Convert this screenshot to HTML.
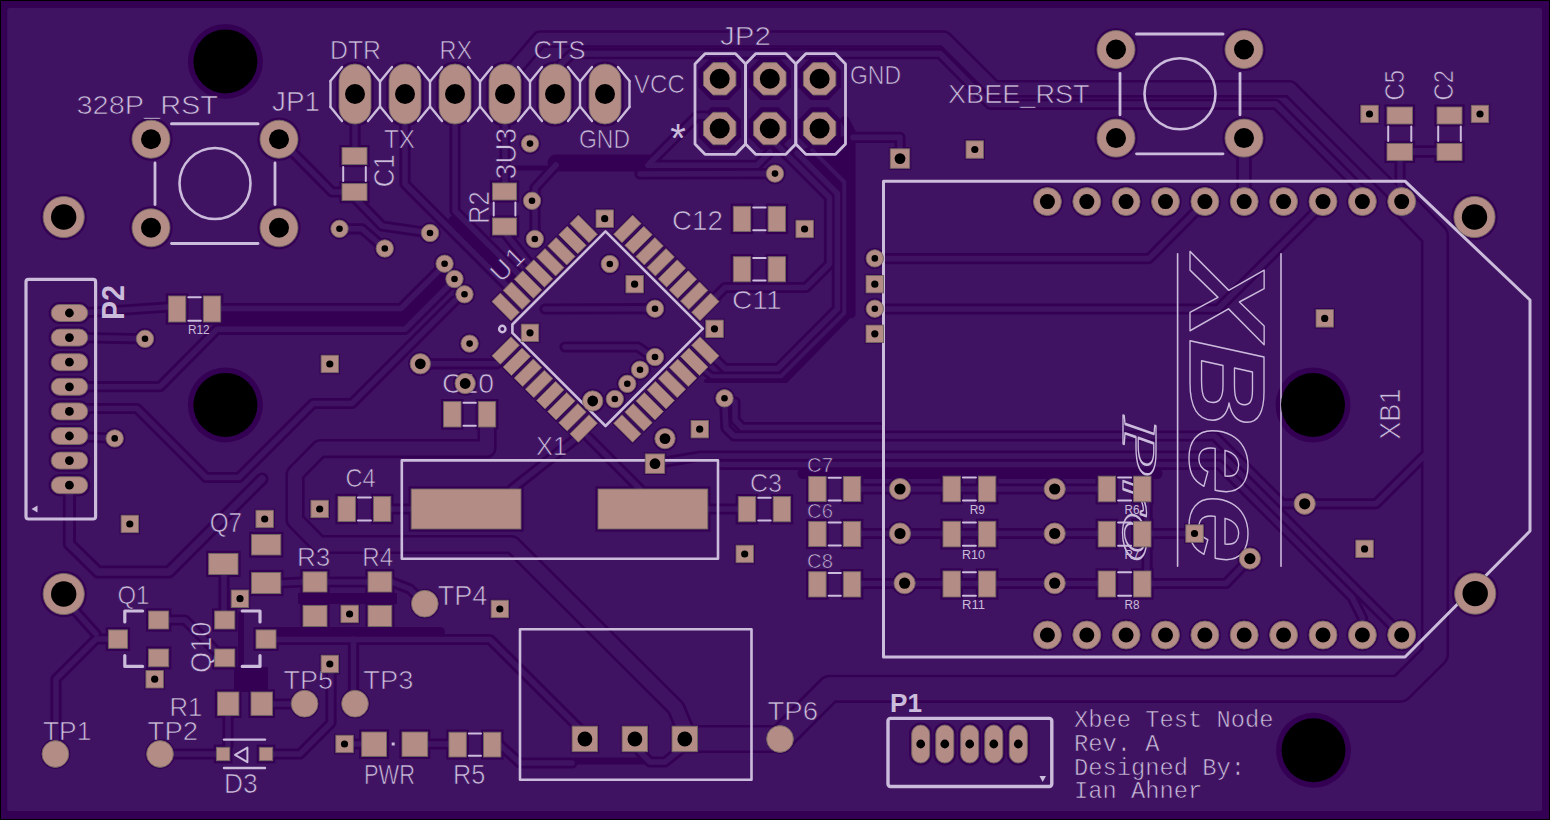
<!DOCTYPE html>
<html lang="en"><head><meta charset="utf-8"><title>Xbee Test Node - board render</title>
<style>html,body{margin:0;padding:0;background:#000;overflow:hidden}svg{display:block}</style></head><body>
<svg width="1550" height="820" viewBox="0 0 1550 820">
<rect width="1550" height="820" fill="#000"/>
<rect x="1" y="1" width="1548" height="818" fill="#340054"/>
<rect x="7.2" y="8" width="1534.8" height="803" rx="2.5" fill="#401262"/>
<g fill="none" stroke="#340054" stroke-linejoin="round" stroke-linecap="round">
<circle cx="225.4" cy="61.4" r="37.5" stroke="none" fill="#340054"/>
<circle cx="225.4" cy="404.9" r="37.5" stroke="none" fill="#340054"/>
<circle cx="1313" cy="405" r="37.5" stroke="none" fill="#340054"/>
<circle cx="1313.5" cy="750.3" r="37.5" stroke="none" fill="#340054"/>
<circle cx="63.7" cy="217" r="23.2" stroke="none" fill="#340054"/>
<circle cx="1474.5" cy="217" r="23.2" stroke="none" fill="#340054"/>
<circle cx="63.7" cy="594" r="23.2" stroke="none" fill="#340054"/>
<circle cx="1475.2" cy="593.6" r="23.2" stroke="none" fill="#340054"/>
<circle cx="151" cy="139.2" r="21.6" stroke="none" fill="#340054"/>
<circle cx="151" cy="227.8" r="21.6" stroke="none" fill="#340054"/>
<circle cx="279" cy="139.2" r="21.6" stroke="none" fill="#340054"/>
<circle cx="279" cy="227.8" r="21.6" stroke="none" fill="#340054"/>
<circle cx="1116" cy="49.5" r="21.6" stroke="none" fill="#340054"/>
<circle cx="1116" cy="138.1" r="21.6" stroke="none" fill="#340054"/>
<circle cx="1244" cy="49.5" r="21.6" stroke="none" fill="#340054"/>
<circle cx="1244" cy="138.1" r="21.6" stroke="none" fill="#340054"/>
<rect x="336.4" y="61.4" width="37.2" height="65.2" rx="18.6" stroke="none" fill="#340054"/>
<rect x="386.4" y="61.4" width="37.2" height="65.2" rx="18.6" stroke="none" fill="#340054"/>
<rect x="436.4" y="61.4" width="37.2" height="65.2" rx="18.6" stroke="none" fill="#340054"/>
<rect x="486.4" y="61.4" width="37.2" height="65.2" rx="18.6" stroke="none" fill="#340054"/>
<rect x="536.4" y="61.4" width="37.2" height="65.2" rx="18.6" stroke="none" fill="#340054"/>
<rect x="586.4" y="61.4" width="37.2" height="65.2" rx="18.6" stroke="none" fill="#340054"/>
<polygon points="710.9,57.6 728.5,57.6 740.9,70 740.9,87.6 728.5,100 710.9,100 698.5,87.6 698.5,70" stroke="none" fill="#340054"/>
<polygon points="710.9,107.3 728.5,107.3 740.9,119.7 740.9,137.3 728.5,149.7 710.9,149.7 698.5,137.3 698.5,119.7" stroke="none" fill="#340054"/>
<polygon points="761,57.6 778.6,57.6 791,70 791,87.6 778.6,100 761,100 748.6,87.6 748.6,70" stroke="none" fill="#340054"/>
<polygon points="761,107.3 778.6,107.3 791,119.7 791,137.3 778.6,149.7 761,149.7 748.6,137.3 748.6,119.7" stroke="none" fill="#340054"/>
<polygon points="810.8,57.6 828.4,57.6 840.8,70 840.8,87.6 828.4,100 810.8,100 798.4,87.6 798.4,70" stroke="none" fill="#340054"/>
<polygon points="810.8,107.3 828.4,107.3 840.8,119.7 840.8,137.3 828.4,149.7 810.8,149.7 798.4,137.3 798.4,119.7" stroke="none" fill="#340054"/>
<rect x="339.4" y="145" width="30.2" height="22.2" stroke="none" fill="#340054"/>
<rect x="339.4" y="181" width="30.2" height="22.2" stroke="none" fill="#340054"/>
<rect x="489.9" y="180.4" width="29.3" height="22.2" stroke="none" fill="#340054"/>
<rect x="489.9" y="215.4" width="29.3" height="22.2" stroke="none" fill="#340054"/>
<rect x="1384.4" y="104.4" width="30.7" height="22.2" stroke="none" fill="#340054"/>
<rect x="1384.4" y="140.8" width="30.7" height="22.2" stroke="none" fill="#340054"/>
<rect x="1434.4" y="104.4" width="30.2" height="22.2" stroke="none" fill="#340054"/>
<rect x="1434.4" y="140.8" width="30.2" height="22.2" stroke="none" fill="#340054"/>
<rect x="730.7" y="203.7" width="22.6" height="30.4" stroke="none" fill="#340054"/>
<rect x="765.5" y="203.7" width="22.6" height="30.4" stroke="none" fill="#340054"/>
<rect x="730.7" y="254.1" width="22.6" height="30.3" stroke="none" fill="#340054"/>
<rect x="765.5" y="254.1" width="22.6" height="30.3" stroke="none" fill="#340054"/>
<rect x="165.8" y="293.4" width="22.6" height="31.2" stroke="none" fill="#340054"/>
<rect x="200.7" y="293.4" width="22.6" height="31.2" stroke="none" fill="#340054"/>
<rect x="441" y="399" width="22.6" height="30.6" stroke="none" fill="#340054"/>
<rect x="475.7" y="399" width="22.6" height="30.6" stroke="none" fill="#340054"/>
<rect x="335.4" y="493.8" width="22.6" height="30.4" stroke="none" fill="#340054"/>
<rect x="370.8" y="493.8" width="22.6" height="30.4" stroke="none" fill="#340054"/>
<rect x="735.7" y="494" width="22.6" height="30.4" stroke="none" fill="#340054"/>
<rect x="770.6" y="494" width="22.6" height="30.4" stroke="none" fill="#340054"/>
<rect x="806.1" y="473.9" width="22.6" height="30.3" stroke="none" fill="#340054"/>
<rect x="840.7" y="473.9" width="22.6" height="30.3" stroke="none" fill="#340054"/>
<rect x="806.1" y="518.8" width="22.6" height="30.4" stroke="none" fill="#340054"/>
<rect x="840.7" y="518.8" width="22.6" height="30.4" stroke="none" fill="#340054"/>
<rect x="806.1" y="569.1" width="22.6" height="30.5" stroke="none" fill="#340054"/>
<rect x="840.7" y="569.1" width="22.6" height="30.5" stroke="none" fill="#340054"/>
<rect x="446.3" y="729.6" width="22.6" height="30" stroke="none" fill="#340054"/>
<rect x="480.9" y="729.6" width="22.6" height="30" stroke="none" fill="#340054"/>
<rect x="940.4" y="473.6" width="22.6" height="30.8" stroke="none" fill="#340054"/>
<rect x="975.8" y="473.6" width="22.6" height="30.8" stroke="none" fill="#340054"/>
<rect x="1095.6" y="473.6" width="22.6" height="30.8" stroke="none" fill="#340054"/>
<rect x="1131" y="473.6" width="22.6" height="30.8" stroke="none" fill="#340054"/>
<rect x="940.4" y="518.7" width="22.6" height="30.8" stroke="none" fill="#340054"/>
<rect x="975.8" y="518.7" width="22.6" height="30.8" stroke="none" fill="#340054"/>
<rect x="1095.6" y="518.7" width="22.6" height="30.8" stroke="none" fill="#340054"/>
<rect x="1131" y="518.7" width="22.6" height="30.8" stroke="none" fill="#340054"/>
<rect x="940.4" y="568.4" width="22.6" height="31.2" stroke="none" fill="#340054"/>
<rect x="975.8" y="568.4" width="22.6" height="31.2" stroke="none" fill="#340054"/>
<rect x="1095.6" y="568.4" width="22.6" height="31.2" stroke="none" fill="#340054"/>
<rect x="1131" y="568.4" width="22.6" height="31.2" stroke="none" fill="#340054"/>
<rect x="48.6" y="301.9" width="41.7" height="22.2" rx="11.1" stroke="none" fill="#340054"/>
<rect x="48.6" y="326.5" width="41.7" height="22.2" rx="11.1" stroke="none" fill="#340054"/>
<rect x="48.6" y="351.1" width="41.7" height="22.2" rx="11.1" stroke="none" fill="#340054"/>
<rect x="48.6" y="375.7" width="41.7" height="22.2" rx="11.1" stroke="none" fill="#340054"/>
<rect x="48.6" y="400.3" width="41.7" height="22.2" rx="11.1" stroke="none" fill="#340054"/>
<rect x="48.6" y="424.9" width="41.7" height="22.2" rx="11.1" stroke="none" fill="#340054"/>
<rect x="48.6" y="449.5" width="41.7" height="22.2" rx="11.1" stroke="none" fill="#340054"/>
<rect x="48.6" y="474.1" width="41.7" height="22.2" rx="11.1" stroke="none" fill="#340054"/>
<rect x="909.1" y="722.4" width="23.2" height="43.2" rx="11.6" stroke="none" fill="#340054"/>
<rect x="933.2" y="722.4" width="23.2" height="43.2" rx="11.6" stroke="none" fill="#340054"/>
<rect x="958.1" y="722.4" width="23.2" height="43.2" rx="11.6" stroke="none" fill="#340054"/>
<rect x="982.2" y="722.4" width="23.2" height="43.2" rx="11.6" stroke="none" fill="#340054"/>
<rect x="1006.7" y="722.4" width="23.2" height="43.2" rx="11.6" stroke="none" fill="#340054"/>
<polygon points="578.4,213.1 599.4,234.2 589,244.7 567.9,223.6" stroke="none" fill="#340054"/>
<polygon points="700,334.8 721.1,355.8 710.6,366.3 689.5,345.2" stroke="none" fill="#340054"/>
<polygon points="632.6,213.1 643.1,223.6 622,244.7 611.6,234.2" stroke="none" fill="#340054"/>
<polygon points="511,334.8 521.5,345.2 500.4,366.3 489.9,355.8" stroke="none" fill="#340054"/>
<polygon points="567.2,224.3 588.3,245.3 577.8,255.8 556.8,234.7" stroke="none" fill="#340054"/>
<polygon points="688.9,345.9 709.9,367 699.5,377.4 678.4,356.4" stroke="none" fill="#340054"/>
<polygon points="643.8,224.3 654.2,234.7 633.2,255.8 622.7,245.3" stroke="none" fill="#340054"/>
<polygon points="522.1,345.9 532.6,356.4 511.5,377.4 501.1,367" stroke="none" fill="#340054"/>
<polygon points="556.1,235.4 577.2,256.5 566.7,267 545.6,245.9" stroke="none" fill="#340054"/>
<polygon points="677.7,357 698.8,378.1 688.3,388.6 667.2,367.5" stroke="none" fill="#340054"/>
<polygon points="654.9,235.4 665.4,245.9 644.3,267 633.8,256.5" stroke="none" fill="#340054"/>
<polygon points="533.3,357 543.8,367.5 522.7,388.6 512.2,378.1" stroke="none" fill="#340054"/>
<polygon points="545,246.6 566,267.6 555.6,278.1 534.5,257" stroke="none" fill="#340054"/>
<polygon points="666.6,368.2 687.6,389.2 677.2,399.7 656.1,378.6" stroke="none" fill="#340054"/>
<polygon points="666,246.6 676.5,257 655.4,278.1 645,267.6" stroke="none" fill="#340054"/>
<polygon points="544.4,368.2 554.9,378.6 533.8,399.7 523.4,389.2" stroke="none" fill="#340054"/>
<polygon points="533.8,257.7 554.9,278.8 544.4,289.2 523.4,268.2" stroke="none" fill="#340054"/>
<polygon points="655.4,379.3 676.5,400.4 666,410.8 645,389.8" stroke="none" fill="#340054"/>
<polygon points="677.2,257.7 687.6,268.2 666.6,289.2 656.1,278.8" stroke="none" fill="#340054"/>
<polygon points="555.6,379.3 566,389.8 545,410.8 534.5,400.4" stroke="none" fill="#340054"/>
<polygon points="522.7,268.8 543.8,289.9 533.3,300.4 512.2,279.3" stroke="none" fill="#340054"/>
<polygon points="644.3,390.4 665.4,411.5 654.9,422 633.8,400.9" stroke="none" fill="#340054"/>
<polygon points="688.3,268.8 698.8,279.3 677.7,300.4 667.2,289.9" stroke="none" fill="#340054"/>
<polygon points="566.7,390.4 577.2,400.9 556.1,422 545.6,411.5" stroke="none" fill="#340054"/>
<polygon points="511.5,280 532.6,301 522.1,311.5 501.1,290.4" stroke="none" fill="#340054"/>
<polygon points="633.2,401.6 654.2,422.7 643.8,433.1 622.7,412.1" stroke="none" fill="#340054"/>
<polygon points="699.5,280 709.9,290.4 688.9,311.5 678.4,301" stroke="none" fill="#340054"/>
<polygon points="577.8,401.6 588.3,412.1 567.2,433.1 556.8,422.7" stroke="none" fill="#340054"/>
<polygon points="500.4,291.1 521.5,312.2 511,322.6 489.9,301.6" stroke="none" fill="#340054"/>
<polygon points="622,412.7 643.1,433.8 632.6,444.3 611.6,423.2" stroke="none" fill="#340054"/>
<polygon points="710.6,291.1 721.1,301.6 700,322.6 689.5,312.2" stroke="none" fill="#340054"/>
<polygon points="589,412.7 599.4,423.2 578.4,444.3 567.9,433.8" stroke="none" fill="#340054"/>
<rect x="408.6" y="486.4" width="115" height="45.2" stroke="none" fill="#340054"/>
<rect x="595.4" y="486.4" width="115" height="45.2" stroke="none" fill="#340054"/>
<rect x="570.6" y="724.8" width="28.5" height="28.5" stroke="none" fill="#340054"/>
<rect x="620.6" y="724.8" width="28.5" height="28.5" stroke="none" fill="#340054"/>
<rect x="670.5" y="724.8" width="28.5" height="28.5" stroke="none" fill="#340054"/>
<circle cx="424.8" cy="603.7" r="14.9" stroke="none" fill="#340054"/>
<circle cx="304.6" cy="703.7" r="14.9" stroke="none" fill="#340054"/>
<circle cx="355" cy="703.7" r="14.9" stroke="none" fill="#340054"/>
<circle cx="55.4" cy="754" r="14.9" stroke="none" fill="#340054"/>
<circle cx="160" cy="754" r="14.9" stroke="none" fill="#340054"/>
<circle cx="780" cy="739" r="14.9" stroke="none" fill="#340054"/>
<rect x="105.8" y="627.3" width="24.3" height="23.6" stroke="none" fill="#340054"/>
<rect x="146" y="608.4" width="25.3" height="23.2" stroke="none" fill="#340054"/>
<rect x="146" y="646.4" width="25.3" height="23" stroke="none" fill="#340054"/>
<rect x="212.1" y="608.4" width="25.3" height="23.2" stroke="none" fill="#340054"/>
<rect x="212.1" y="646.4" width="25.3" height="23" stroke="none" fill="#340054"/>
<rect x="253.4" y="627.3" width="25.2" height="23.6" stroke="none" fill="#340054"/>
<rect x="206.1" y="550.8" width="34.5" height="26.3" stroke="none" fill="#340054"/>
<rect x="249" y="531.8" width="34.4" height="25.8" stroke="none" fill="#340054"/>
<rect x="249" y="569.9" width="34.4" height="26.3" stroke="none" fill="#340054"/>
<rect x="300.4" y="569.2" width="29.2" height="25.4" stroke="none" fill="#340054"/>
<rect x="300.4" y="602.8" width="29.2" height="26.3" stroke="none" fill="#340054"/>
<rect x="365.4" y="569.2" width="29" height="25.4" stroke="none" fill="#340054"/>
<rect x="365.4" y="602.8" width="29" height="26.3" stroke="none" fill="#340054"/>
<rect x="214.8" y="689.4" width="26.7" height="28.6" stroke="none" fill="#340054"/>
<rect x="248.4" y="689.4" width="26.6" height="28.6" stroke="none" fill="#340054"/>
<rect x="213.8" y="744.7" width="18.6" height="18.6" stroke="none" fill="#340054"/>
<rect x="256.7" y="744.7" width="18.6" height="18.6" stroke="none" fill="#340054"/>
<rect x="359.1" y="729.4" width="30" height="29.6" stroke="none" fill="#340054"/>
<rect x="399.4" y="729.4" width="30.9" height="29.6" stroke="none" fill="#340054"/>
<circle cx="1047.4" cy="201.6" r="16" stroke="none" fill="#340054"/>
<circle cx="1047.4" cy="635" r="16" stroke="none" fill="#340054"/>
<circle cx="1086.8" cy="201.6" r="16" stroke="none" fill="#340054"/>
<circle cx="1086.8" cy="635" r="16" stroke="none" fill="#340054"/>
<circle cx="1126.1" cy="201.6" r="16" stroke="none" fill="#340054"/>
<circle cx="1126.1" cy="635" r="16" stroke="none" fill="#340054"/>
<circle cx="1165.5" cy="201.6" r="16" stroke="none" fill="#340054"/>
<circle cx="1165.5" cy="635" r="16" stroke="none" fill="#340054"/>
<circle cx="1204.9" cy="201.6" r="16" stroke="none" fill="#340054"/>
<circle cx="1204.9" cy="635" r="16" stroke="none" fill="#340054"/>
<circle cx="1244.2" cy="201.6" r="16" stroke="none" fill="#340054"/>
<circle cx="1244.2" cy="635" r="16" stroke="none" fill="#340054"/>
<circle cx="1283.6" cy="201.6" r="16" stroke="none" fill="#340054"/>
<circle cx="1283.6" cy="635" r="16" stroke="none" fill="#340054"/>
<circle cx="1323" cy="201.6" r="16" stroke="none" fill="#340054"/>
<circle cx="1323" cy="635" r="16" stroke="none" fill="#340054"/>
<circle cx="1362.4" cy="201.6" r="16" stroke="none" fill="#340054"/>
<circle cx="1362.4" cy="635" r="16" stroke="none" fill="#340054"/>
<circle cx="1401.7" cy="201.6" r="16" stroke="none" fill="#340054"/>
<circle cx="1401.7" cy="635" r="16" stroke="none" fill="#340054"/>
<circle cx="339.5" cy="228.8" r="10.7" stroke="none" fill="#340054"/>
<circle cx="384.8" cy="248.5" r="10.7" stroke="none" fill="#340054"/>
<circle cx="430" cy="233" r="10.7" stroke="none" fill="#340054"/>
<circle cx="444.6" cy="263.7" r="10.7" stroke="none" fill="#340054"/>
<circle cx="454.5" cy="279" r="10.7" stroke="none" fill="#340054"/>
<circle cx="464.5" cy="294.3" r="10.7" stroke="none" fill="#340054"/>
<circle cx="530" cy="143.6" r="10.7" stroke="none" fill="#340054"/>
<circle cx="532" cy="200.8" r="10.7" stroke="none" fill="#340054"/>
<circle cx="534.8" cy="239" r="10.7" stroke="none" fill="#340054"/>
<circle cx="469.6" cy="343.6" r="10.7" stroke="none" fill="#340054"/>
<circle cx="609.8" cy="264" r="10.7" stroke="none" fill="#340054"/>
<circle cx="655" cy="308.7" r="10.7" stroke="none" fill="#340054"/>
<circle cx="655" cy="357" r="10.7" stroke="none" fill="#340054"/>
<circle cx="640" cy="369.7" r="10.7" stroke="none" fill="#340054"/>
<circle cx="627.3" cy="383.8" r="10.7" stroke="none" fill="#340054"/>
<circle cx="614.8" cy="399" r="10.7" stroke="none" fill="#340054"/>
<circle cx="724.5" cy="398.3" r="10.7" stroke="none" fill="#340054"/>
<circle cx="775" cy="173.6" r="10.7" stroke="none" fill="#340054"/>
<circle cx="874.8" cy="258.4" r="10.7" stroke="none" fill="#340054"/>
<circle cx="874.8" cy="308.7" r="10.7" stroke="none" fill="#340054"/>
<circle cx="145" cy="338.8" r="10.7" stroke="none" fill="#340054"/>
<circle cx="114.7" cy="438.4" r="10.7" stroke="none" fill="#340054"/>
<circle cx="420.3" cy="363.8" r="12.2" stroke="none" fill="#340054"/>
<circle cx="465.2" cy="383.5" r="12.2" stroke="none" fill="#340054"/>
<circle cx="592.7" cy="401" r="12.2" stroke="none" fill="#340054"/>
<circle cx="665" cy="438.6" r="12.2" stroke="none" fill="#340054"/>
<circle cx="900" cy="489" r="12.6" stroke="none" fill="#340054"/>
<circle cx="900" cy="533.5" r="12.6" stroke="none" fill="#340054"/>
<circle cx="904.6" cy="583.2" r="12.6" stroke="none" fill="#340054"/>
<circle cx="1054.7" cy="489" r="12.6" stroke="none" fill="#340054"/>
<circle cx="1054.7" cy="533.5" r="12.6" stroke="none" fill="#340054"/>
<circle cx="1054.7" cy="583.2" r="12.6" stroke="none" fill="#340054"/>
<circle cx="1304.7" cy="503.8" r="12.6" stroke="none" fill="#340054"/>
<circle cx="1249.9" cy="558.6" r="12.6" stroke="none" fill="#340054"/>
<rect x="964.5" y="139.2" width="20.5" height="20.5" stroke="none" fill="#340054"/>
<rect x="594.5" y="208.4" width="20.5" height="20.5" stroke="none" fill="#340054"/>
<rect x="794.4" y="218.8" width="20.5" height="20.5" stroke="none" fill="#340054"/>
<rect x="624.4" y="273.9" width="20.5" height="20.5" stroke="none" fill="#340054"/>
<rect x="519.8" y="322.6" width="20.5" height="20.5" stroke="none" fill="#340054"/>
<rect x="704.2" y="318.6" width="20.5" height="20.5" stroke="none" fill="#340054"/>
<rect x="864.5" y="273.9" width="20.5" height="20.5" stroke="none" fill="#340054"/>
<rect x="864.5" y="323.6" width="20.5" height="20.5" stroke="none" fill="#340054"/>
<rect x="1359.2" y="103.8" width="20.5" height="20.5" stroke="none" fill="#340054"/>
<rect x="1469.8" y="103.8" width="20.5" height="20.5" stroke="none" fill="#340054"/>
<rect x="319.6" y="353.8" width="20.5" height="20.5" stroke="none" fill="#340054"/>
<rect x="119.6" y="513.8" width="20.5" height="20.5" stroke="none" fill="#340054"/>
<rect x="254.4" y="508.8" width="20.5" height="20.5" stroke="none" fill="#340054"/>
<rect x="309.4" y="498.8" width="20.5" height="20.5" stroke="none" fill="#340054"/>
<rect x="689.5" y="418.9" width="20.5" height="20.5" stroke="none" fill="#340054"/>
<rect x="734.5" y="543.8" width="20.5" height="20.5" stroke="none" fill="#340054"/>
<rect x="489.6" y="598.8" width="20.5" height="20.5" stroke="none" fill="#340054"/>
<rect x="229.8" y="588.5" width="20.5" height="20.5" stroke="none" fill="#340054"/>
<rect x="339.4" y="603.8" width="20.5" height="20.5" stroke="none" fill="#340054"/>
<rect x="319.6" y="653.8" width="20.5" height="20.5" stroke="none" fill="#340054"/>
<rect x="144.4" y="669" width="20.5" height="20.5" stroke="none" fill="#340054"/>
<rect x="334.2" y="733.8" width="20.5" height="20.5" stroke="none" fill="#340054"/>
<rect x="1314.5" y="308.1" width="20.5" height="20.5" stroke="none" fill="#340054"/>
<rect x="1184.2" y="523.2" width="20.5" height="20.5" stroke="none" fill="#340054"/>
<rect x="1354.3" y="538.6" width="20.5" height="20.5" stroke="none" fill="#340054"/>
<rect x="888.8" y="147.3" width="22.5" height="22.5" stroke="none" fill="#340054"/>
<rect x="643.8" y="452.4" width="22.5" height="22.5" stroke="none" fill="#340054"/>
<polyline points="279,138.5 332,192 345,192" stroke-width="11.2"/>
<polyline points="355,120 355,150" stroke-width="11.2"/>
<polyline points="405,120 405,184 510,289" stroke-width="11.2"/>
<polyline points="455,120 455,211 521,277" stroke-width="11.2"/>
<polyline points="355,198 382,226 430,233" stroke-width="11.2"/>
<polyline points="339.5,228.8 362,228.8 384.8,248.5" stroke-width="11.2"/>
<polyline points="80,313 168,307" stroke-width="11.2"/>
<polyline points="220,308.5 401,308.5 444.6,264.9" stroke-width="11.2"/>
<polyline points="223,318.7 404,318.7 450,272.7" stroke-width="13"/>
<polyline points="69.4,386.7 160,386.7 217,329.3 405,329.3 452,282.3" stroke-width="11.2"/>
<polyline points="69.4,337.4 145,338.8" stroke-width="11.2"/>
<polyline points="69.4,408.5 137,408.5 206,477.5 239,477.5 313,403.5 352,403.5 455,300.5" stroke-width="11.2"/>
<polyline points="69.4,436 114.7,438.4" stroke-width="11.2"/>
<polyline points="420,363.8 497,363.8" stroke-width="11.2"/>
<polyline points="487,425 487,448.6 320,448.6 295,474 295,520 319,544.5 512,544.5 676,708 686,732" stroke-width="19.2"/>
<polygon points="800,150 847,135 847,197" stroke="none" fill="#340054"/>
<polyline points="772,140 829.5,197.5 829.5,264 806,287.5 725,287.5 716,296.5" stroke-width="11.2"/>
<polyline points="797,153 837.4,193.4 837.4,309 778,368.6 725,368.6 716,360" stroke-width="11.2"/>
<polyline points="812,150 844.3,182 844.3,313 781,376.3 712,376.3 705,371" stroke-width="9.6"/>
<polyline points="845,120 851.3,132 851.3,314" stroke-width="8.5"/>
<polyline points="851.3,314 786,381 706,381" stroke-width="4"/>
<polyline points="853,137.4 900,137.4 900,158" stroke-width="11.2"/>
<polyline points="640,174 775,173.6" stroke-width="11.2"/>
<polyline points="648,165.3 757,165.3 770,152" stroke-width="11.2"/>
<polyline points="556,163 648,163" stroke-width="17"/>
<polyline points="514,168 556,168" stroke-width="5"/>
<polyline points="556,165 535,188 535,239" stroke-width="11.2"/>
<polyline points="545,309 655,308.7" stroke-width="11.2"/>
<polyline points="505,80 540,39 944,39 994,88.8 1290,88.8 1401.7,200.5" stroke-width="17.7"/>
<polyline points="555,70 572,53.7 940,53.7 990,104.3 1276,104.3 1362.5,191 1362.5,201.6" stroke-width="11.2"/>
<polyline points="1244,137.5 1244,201.6" stroke-width="15.6"/>
<polyline points="1400,160 1400,195" stroke-width="11.2"/>
<polyline points="1412,151.5 1438,151.5" stroke-width="12.6"/>
<polyline points="874.8,258.6 1149,258.6 1199,208" stroke-width="11.2"/>
<polyline points="874.8,309 1218,309 1322,205" stroke-width="11.2"/>
<polyline points="650,163 697,116 706,116" stroke-width="11.2"/>
<polyline points="69.4,485 69.4,544 98,572 169,572 262,479" stroke-width="13.1"/>
<polyline points="118,639 96,639 56,679 56,754" stroke-width="11.2"/>
<polyline points="70,605 96,634" stroke-width="11.2"/>
<polyline points="168,620 185,620 215,650" stroke-width="11.2"/>
<polyline points="224,574 224,611" stroke-width="11.2"/>
<rect x="234" y="667" width="34" height="25" stroke="none" fill="#340054"/>
<polyline points="241,614 241,668" stroke-width="6"/>
<rect x="298" y="593" width="99" height="11" stroke="none" fill="#340054"/>
<polyline points="281,583 303,582" stroke-width="11.2"/>
<polyline points="327,582 368,582" stroke-width="11.2"/>
<polyline points="392,582 410,589 424.8,603.7" stroke-width="11.2"/>
<polyline points="262,632 440,632" stroke-width="10"/>
<polyline points="266,639.5 490,639.5 583,732" stroke-width="11.2"/>
<polyline points="353.5,639 353.5,703" stroke-width="11.2"/>
<polyline points="391,509 411,509" stroke-width="11.2"/>
<polyline points="160,754 217,754" stroke-width="11.2"/>
<polyline points="272,754 300,754 331,723 331,668" stroke-width="11.2"/>
<polyline points="228,715 228,745" stroke-width="11.2"/>
<polyline points="272,704 291,704" stroke-width="11.2"/>
<polyline points="344.5,744 362,744" stroke-width="11.2"/>
<polyline points="427,744 449,744" stroke-width="11.2"/>
<polyline points="500,745 520,763 572,763" stroke-width="11.2"/>
<polyline points="575,761 652,761" stroke-width="7"/>
<polyline points="640,752 650,762 665,762 680,750" stroke-width="11.2"/>
<polyline points="697,739 780,739 830,688.8 1400,688.8 1435,654 1435,236 1403,203" stroke-width="28.2"/>
<polyline points="655,463.7 700,456 1222.7,456 1401.7,635" stroke-width="11.2"/>
<polyline points="722,464.5 1219.3,464.5 1352,597.2 1362.5,618 1362.5,635" stroke-width="11.2"/>
<polyline points="803,473.5 1157,473.5" stroke-width="11"/>
<polyline points="860,489 1100,489" stroke-width="11.2"/>
<polyline points="860,533.5 1100,533.5" stroke-width="11.2"/>
<polyline points="860,583.5 1100,583.5" stroke-width="11.2"/>
<polyline points="1147,495 1147,578" stroke-width="11.2"/>
<polyline points="1151,583.5 1226,583.5 1249.9,558.6" stroke-width="11.2"/>
<polyline points="1151,533.5 1194.5,533.5" stroke-width="11.2"/>
<polyline points="578,437 512,489" stroke-width="11.2"/>
<polyline points="588,437 640,489" stroke-width="11.2"/>
<polyline points="707,509 738,509" stroke-width="11.2"/>
<polyline points="724.5,398.3 726,428 734,436 1214.6,436 1282.4,503.8 1304.7,503.8" stroke-width="11.2"/>
<polyline points="565,347 638,347 651,356" stroke-width="11.2"/>
<polyline points="1304.7,503.8 1376,503.8 1424,456" stroke-width="11.2"/>
<polyline points="505,120 505,185" stroke-width="11.2"/>
<polyline points="505,233 528,262" stroke-width="11.2"/>
<polyline points="735,402 735,420 742,427.5 880,427.5" stroke-width="11.2"/>
<polyline points="452,219.5 513,280.5" stroke-width="6.5"/>
</g>
<g fill="none" stroke="#401262" stroke-linejoin="round" stroke-linecap="round">
<polyline points="279,138.5 332,192 345,192" stroke-width="5.6"/>
<polyline points="355,120 355,150" stroke-width="5.6"/>
<polyline points="405,120 405,184 510,289" stroke-width="5.6"/>
<polyline points="455,120 455,211 521,277" stroke-width="5.6"/>
<polyline points="355,198 382,226 430,233" stroke-width="5.6"/>
<polyline points="339.5,228.8 362,228.8 384.8,248.5" stroke-width="5.6"/>
<polyline points="80,313 168,307" stroke-width="5.6"/>
<polyline points="220,308.5 401,308.5 444.6,264.9" stroke-width="5.6"/>
<polyline points="69.4,386.7 160,386.7 217,329.3 405,329.3 452,282.3" stroke-width="5.6"/>
<polyline points="69.4,337.4 145,338.8" stroke-width="5.6"/>
<polyline points="69.4,408.5 137,408.5 206,477.5 239,477.5 313,403.5 352,403.5 455,300.5" stroke-width="5.6"/>
<polyline points="69.4,436 114.7,438.4" stroke-width="5.6"/>
<polyline points="420,363.8 497,363.8" stroke-width="5.6"/>
<polyline points="487,425 487,448.6 320,448.6 295,474 295,520 319,544.5 512,544.5 676,708 686,732" stroke-width="14"/>
<polyline points="772,140 829.5,197.5 829.5,264 806,287.5 725,287.5 716,296.5" stroke-width="5.6"/>
<polyline points="797,153 837.4,193.4 837.4,309 778,368.6 725,368.6 716,360" stroke-width="5.6"/>
<polyline points="812,150 844.3,182 844.3,313 781,376.3 712,376.3 705,371" stroke-width="4"/>
<polyline points="853,137.4 900,137.4 900,158" stroke-width="5.6"/>
<polyline points="640,174 775,173.6" stroke-width="5.6"/>
<polyline points="648,165.3 757,165.3 770,152" stroke-width="5.6"/>
<polyline points="556,165 535,188 535,239" stroke-width="5.6"/>
<polyline points="545,309 655,308.7" stroke-width="5.6"/>
<polyline points="505,80 540,39 944,39 994,88.8 1290,88.8 1401.7,200.5" stroke-width="12.5"/>
<polyline points="555,70 572,53.7 940,53.7 990,104.3 1276,104.3 1362.5,191 1362.5,201.6" stroke-width="6"/>
<polyline points="1244,137.5 1244,201.6" stroke-width="10"/>
<polyline points="1400,160 1400,195" stroke-width="5.6"/>
<polyline points="1412,151.5 1438,151.5" stroke-width="7"/>
<polyline points="874.8,258.6 1149,258.6 1199,208" stroke-width="5.6"/>
<polyline points="874.8,309 1218,309 1322,205" stroke-width="5.6"/>
<polyline points="650,163 697,116 706,116" stroke-width="5.6"/>
<polyline points="69.4,485 69.4,544 98,572 169,572 262,479" stroke-width="7.5"/>
<polyline points="118,639 96,639 56,679 56,754" stroke-width="5.6"/>
<polyline points="70,605 96,634" stroke-width="5.6"/>
<polyline points="168,620 185,620 215,650" stroke-width="5.6"/>
<polyline points="224,574 224,611" stroke-width="5.6"/>
<polyline points="281,583 303,582" stroke-width="5.6"/>
<polyline points="327,582 368,582" stroke-width="5.6"/>
<polyline points="392,582 410,589 424.8,603.7" stroke-width="5.6"/>
<polyline points="266,639.5 490,639.5 583,732" stroke-width="5.6"/>
<polyline points="353.5,639 353.5,703" stroke-width="5.6"/>
<polyline points="391,509 411,509" stroke-width="5.6"/>
<polyline points="160,754 217,754" stroke-width="5.6"/>
<polyline points="272,754 300,754 331,723 331,668" stroke-width="5.6"/>
<polyline points="228,715 228,745" stroke-width="5.6"/>
<polyline points="272,704 291,704" stroke-width="5.6"/>
<polyline points="344.5,744 362,744" stroke-width="5.6"/>
<polyline points="427,744 449,744" stroke-width="5.6"/>
<polyline points="500,745 520,763 572,763" stroke-width="5.6"/>
<polyline points="640,752 650,762 665,762 680,750" stroke-width="5.6"/>
<polyline points="697,739 780,739 830,688.8 1400,688.8 1435,654 1435,236 1403,203" stroke-width="23"/>
<polyline points="655,463.7 700,456 1222.7,456 1401.7,635" stroke-width="5.6"/>
<polyline points="722,464.5 1219.3,464.5 1352,597.2 1362.5,618 1362.5,635" stroke-width="5.6"/>
<polyline points="860,489 1100,489" stroke-width="5.6"/>
<polyline points="860,533.5 1100,533.5" stroke-width="5.6"/>
<polyline points="860,583.5 1100,583.5" stroke-width="5.6"/>
<polyline points="1147,495 1147,578" stroke-width="5.6"/>
<polyline points="1151,583.5 1226,583.5 1249.9,558.6" stroke-width="5.6"/>
<polyline points="1151,533.5 1194.5,533.5" stroke-width="5.6"/>
<polyline points="578,437 512,489" stroke-width="5.6"/>
<polyline points="588,437 640,489" stroke-width="5.6"/>
<polyline points="707,509 738,509" stroke-width="5.6"/>
<polyline points="724.5,398.3 726,428 734,436 1214.6,436 1282.4,503.8 1304.7,503.8" stroke-width="5.6"/>
<polyline points="565,347 638,347 651,356" stroke-width="5.6"/>
<polyline points="1304.7,503.8 1376,503.8 1424,456" stroke-width="5.6"/>
<polyline points="505,120 505,185" stroke-width="5.6"/>
<polyline points="505,233 528,262" stroke-width="5.6"/>
<polyline points="735,402 735,420 742,427.5 880,427.5" stroke-width="5.6"/>
</g>
<g fill="none" stroke="#cbbcdc" stroke-linecap="round" stroke-linejoin="round">
<polyline points="171.5,123.7 258,123.7" stroke-width="3"/>
<polyline points="171.5,243.5 258,243.5" stroke-width="2.8"/>
<polyline points="155,163 155,204.5" stroke-width="2.8"/>
<polyline points="275,163 275,204.5" stroke-width="2.8"/>
<circle cx="215" cy="183.5" r="35.5" stroke-width="2.6"/>
<polyline points="1136.5,34 1223,34" stroke-width="3"/>
<polyline points="1136.5,153.8 1223,153.8" stroke-width="2.8"/>
<polyline points="1120,73.3 1120,114.8" stroke-width="2.8"/>
<polyline points="1240,73.3 1240,114.8" stroke-width="2.8"/>
<circle cx="1180" cy="93.8" r="35.5" stroke-width="2.6"/>
<text transform="translate(76.5,114)" font-family="'Liberation Sans', sans-serif" font-size="26.5" textLength="141.5" lengthAdjust="spacingAndGlyphs" fill="#cbbcdc" stroke="#401262" stroke-width="0.7">328P_RST</text>
<text transform="translate(948,103)" font-family="'Liberation Sans', sans-serif" font-size="25.8" textLength="141.7" lengthAdjust="spacingAndGlyphs" fill="#cbbcdc" stroke="#401262" stroke-width="0.7">XBEE_RST</text>
<polyline points="330.5,81 342,67" stroke-width="2.4"/>
<polyline points="330.5,107 342,121" stroke-width="2.4"/>
<polyline points="379.5,81 368,67" stroke-width="2.4"/>
<polyline points="379.5,107 368,121" stroke-width="2.4"/>
<polyline points="330.5,81 330.5,107" stroke-width="2.4"/>
<polyline points="380.5,81 392,67" stroke-width="2.4"/>
<polyline points="380.5,107 392,121" stroke-width="2.4"/>
<polyline points="429.5,81 418,67" stroke-width="2.4"/>
<polyline points="429.5,107 418,121" stroke-width="2.4"/>
<polyline points="380,81 380,107" stroke-width="2.4"/>
<polyline points="430.5,81 442,67" stroke-width="2.4"/>
<polyline points="430.5,107 442,121" stroke-width="2.4"/>
<polyline points="479.5,81 468,67" stroke-width="2.4"/>
<polyline points="479.5,107 468,121" stroke-width="2.4"/>
<polyline points="430,81 430,107" stroke-width="2.4"/>
<polyline points="480.5,81 492,67" stroke-width="2.4"/>
<polyline points="480.5,107 492,121" stroke-width="2.4"/>
<polyline points="529.5,81 518,67" stroke-width="2.4"/>
<polyline points="529.5,107 518,121" stroke-width="2.4"/>
<polyline points="480,81 480,107" stroke-width="2.4"/>
<polyline points="530.5,81 542,67" stroke-width="2.4"/>
<polyline points="530.5,107 542,121" stroke-width="2.4"/>
<polyline points="579.5,81 568,67" stroke-width="2.4"/>
<polyline points="579.5,107 568,121" stroke-width="2.4"/>
<polyline points="530,81 530,107" stroke-width="2.4"/>
<polyline points="580.5,81 592,67" stroke-width="2.4"/>
<polyline points="580.5,107 592,121" stroke-width="2.4"/>
<polyline points="629.5,81 618,67" stroke-width="2.4"/>
<polyline points="629.5,107 618,121" stroke-width="2.4"/>
<polyline points="580,81 580,107" stroke-width="2.4"/>
<polyline points="629.5,81 629.5,107" stroke-width="2.4"/>
<text transform="translate(330,59)" font-family="'Liberation Sans', sans-serif" font-size="26.5" textLength="51" lengthAdjust="spacingAndGlyphs" fill="#cbbcdc" stroke="#401262" stroke-width="0.7">DTR</text>
<text transform="translate(439.5,59)" font-family="'Liberation Sans', sans-serif" font-size="26.5" textLength="32.5" lengthAdjust="spacingAndGlyphs" fill="#cbbcdc" stroke="#401262" stroke-width="0.7">RX</text>
<text transform="translate(533.5,58.7)" font-family="'Liberation Sans', sans-serif" font-size="26.7" textLength="52" lengthAdjust="spacingAndGlyphs" fill="#cbbcdc" stroke="#401262" stroke-width="0.7">CTS</text>
<text transform="translate(384,148)" font-family="'Liberation Sans', sans-serif" font-size="25.1" textLength="31" lengthAdjust="spacingAndGlyphs" fill="#cbbcdc" stroke="#401262" stroke-width="0.7">TX</text>
<text transform="translate(579,148)" font-family="'Liberation Sans', sans-serif" font-size="25.1" textLength="51" lengthAdjust="spacingAndGlyphs" fill="#cbbcdc" stroke="#401262" stroke-width="0.7">GND</text>
<text transform="translate(634,93)" font-family="'Liberation Sans', sans-serif" font-size="25.8" textLength="51" lengthAdjust="spacingAndGlyphs" fill="#cbbcdc" stroke="#401262" stroke-width="0.7">VCC</text>
<text transform="translate(272,111)" font-family="'Liberation Sans', sans-serif" font-size="27.9" textLength="48" lengthAdjust="spacingAndGlyphs" fill="#cbbcdc" stroke="#401262" stroke-width="0.7">JP1</text>
<text transform="translate(515.5,179.3) rotate(-90)" font-family="'Liberation Sans', sans-serif" font-size="28.6" textLength="51.3" lengthAdjust="spacingAndGlyphs" fill="#cbbcdc" stroke="#401262" stroke-width="0.7">3U3</text>
<polygon points="705,53.7 735.6,53.7 745.6,64 745.6,144 735.6,154.3 705,154.3 695,144 695,64" stroke-width="2.8"/>
<polygon points="755.6,53.7 785.8,53.7 795.8,64 795.8,144 785.8,154.3 755.6,154.3 745.6,144 745.6,64" stroke-width="2.8"/>
<polygon points="805.8,53.7 835.5,53.7 845.5,64 845.5,144 835.5,154.3 805.8,154.3 795.8,144 795.8,64" stroke-width="2.8"/>
<text transform="translate(720,45)" font-family="'Liberation Sans', sans-serif" font-size="25.1" textLength="51" lengthAdjust="spacingAndGlyphs" fill="#cbbcdc" stroke="#401262" stroke-width="0.7">JP2</text>
<text transform="translate(850,84)" font-family="'Liberation Sans', sans-serif" font-size="26" textLength="51" lengthAdjust="spacingAndGlyphs" fill="#cbbcdc" stroke="#401262" stroke-width="0.7">GND</text>
<text x="678" y="152" font-family="'Liberation Sans', sans-serif" font-size="40" text-anchor="middle" fill="#cbbcdc" stroke="none">*</text>
<polyline points="343.2,167.1 343.2,181.1" stroke-width="2"/>
<polyline points="365.8,167.1 365.8,181.1" stroke-width="2"/>
<text transform="translate(394,187.3) rotate(-90)" font-family="'Liberation Sans', sans-serif" font-size="29.3" textLength="32.9" lengthAdjust="spacingAndGlyphs" fill="#cbbcdc" stroke="#401262" stroke-width="0.7">C1</text>
<polyline points="493.7,202.5 493.7,215.5" stroke-width="2"/>
<polyline points="515.4,202.5 515.4,215.5" stroke-width="2"/>
<text transform="translate(489,224) rotate(-90)" font-family="'Liberation Sans', sans-serif" font-size="29.3" textLength="32.7" lengthAdjust="spacingAndGlyphs" fill="#cbbcdc" stroke="#401262" stroke-width="0.7">R2</text>
<polyline points="1388.2,126.5 1388.2,140.9" stroke-width="2"/>
<polyline points="1411.3,126.5 1411.3,140.9" stroke-width="2"/>
<text transform="translate(1404,100.6) rotate(-90)" font-family="'Liberation Sans', sans-serif" font-size="27.9" textLength="30.6" lengthAdjust="spacingAndGlyphs" fill="#cbbcdc" stroke="#401262" stroke-width="0.7">C5</text>
<polyline points="1438.2,126.5 1438.2,140.9" stroke-width="2"/>
<polyline points="1460.8,126.5 1460.8,140.9" stroke-width="2"/>
<text transform="translate(1453,100.6) rotate(-90)" font-family="'Liberation Sans', sans-serif" font-size="27.9" textLength="30.6" lengthAdjust="spacingAndGlyphs" fill="#cbbcdc" stroke="#401262" stroke-width="0.7">C2</text>
<polyline points="753.2,207.5 765.6,207.5" stroke-width="2"/>
<polyline points="753.2,230.3 765.6,230.3" stroke-width="2"/>
<text transform="translate(672,230)" font-family="'Liberation Sans', sans-serif" font-size="27" textLength="51" lengthAdjust="spacingAndGlyphs" fill="#cbbcdc" stroke="#401262" stroke-width="0.7">C12</text>
<polyline points="753.2,257.9 765.6,257.9" stroke-width="2"/>
<polyline points="753.2,280.6 765.6,280.6" stroke-width="2"/>
<text transform="translate(732,309.4)" font-family="'Liberation Sans', sans-serif" font-size="25.7" textLength="49.6" lengthAdjust="spacingAndGlyphs" fill="#cbbcdc" stroke="#401262" stroke-width="0.7">C11</text>
<polyline points="188.3,297.2 200.8,297.2" stroke-width="2"/>
<polyline points="188.3,320.8 200.8,320.8" stroke-width="2"/>
<text transform="translate(188,334.4)" font-family="'Liberation Sans', sans-serif" font-size="13.1" textLength="21.7" lengthAdjust="spacingAndGlyphs" fill="#cbbcdc" stroke="none">R12</text>
<polyline points="463.5,402.8 475.8,402.8" stroke-width="2"/>
<polyline points="463.5,425.8 475.8,425.8" stroke-width="2"/>
<text transform="translate(442,392.5)" font-family="'Liberation Sans', sans-serif" font-size="27.2" textLength="52" lengthAdjust="spacingAndGlyphs" fill="#cbbcdc" stroke="#401262" stroke-width="0.7">C10</text>
<polyline points="357.9,497.6 370.9,497.6" stroke-width="2"/>
<polyline points="357.9,520.4 370.9,520.4" stroke-width="2"/>
<text transform="translate(345.5,487.4)" font-family="'Liberation Sans', sans-serif" font-size="26.3" textLength="30.2" lengthAdjust="spacingAndGlyphs" fill="#cbbcdc" stroke="#401262" stroke-width="0.7">C4</text>
<polyline points="758.2,497.8 770.7,497.8" stroke-width="2"/>
<polyline points="758.2,520.6 770.7,520.6" stroke-width="2"/>
<text transform="translate(750,492)" font-family="'Liberation Sans', sans-serif" font-size="26.5" textLength="32" lengthAdjust="spacingAndGlyphs" fill="#cbbcdc" stroke="#401262" stroke-width="0.7">C3</text>
<polyline points="828.6,477.7 840.8,477.7" stroke-width="2"/>
<polyline points="828.6,500.4 840.8,500.4" stroke-width="2"/>
<text transform="translate(807,472)" font-family="'Liberation Sans', sans-serif" font-size="20.9" textLength="26" lengthAdjust="spacingAndGlyphs" fill="#cbbcdc" stroke="#401262" stroke-width="0.7">C7</text>
<polyline points="828.6,522.6 840.8,522.6" stroke-width="2"/>
<polyline points="828.6,545.4 840.8,545.4" stroke-width="2"/>
<text transform="translate(807,518)" font-family="'Liberation Sans', sans-serif" font-size="19.6" textLength="26" lengthAdjust="spacingAndGlyphs" fill="#cbbcdc" stroke="#401262" stroke-width="0.7">C6</text>
<polyline points="828.6,572.9 840.8,572.9" stroke-width="2"/>
<polyline points="828.6,595.8 840.8,595.8" stroke-width="2"/>
<text transform="translate(807,567.7)" font-family="'Liberation Sans', sans-serif" font-size="21.1" textLength="26" lengthAdjust="spacingAndGlyphs" fill="#cbbcdc" stroke="#401262" stroke-width="0.7">C8</text>
<polyline points="468.8,733.4 481,733.4" stroke-width="2"/>
<polyline points="468.8,755.8 481,755.8" stroke-width="2"/>
<text transform="translate(453,783.9)" font-family="'Liberation Sans', sans-serif" font-size="26.8" textLength="32.4" lengthAdjust="spacingAndGlyphs" fill="#cbbcdc" stroke="#401262" stroke-width="0.7">R5</text>
<polyline points="962.9,477.4 975.9,477.4" stroke-width="2"/>
<polyline points="962.9,500.6 975.9,500.6" stroke-width="2"/>
<polyline points="1118.1,477.4 1131.1,477.4" stroke-width="2"/>
<polyline points="1118.1,500.6 1131.1,500.6" stroke-width="2"/>
<text transform="translate(969.7,514.2)" font-family="'Liberation Sans', sans-serif" font-size="12.3" textLength="15.3" lengthAdjust="spacingAndGlyphs" fill="#cbbcdc" stroke="none">R9</text>
<text transform="translate(1124.5,514.2)" font-family="'Liberation Sans', sans-serif" font-size="12.3" textLength="15" lengthAdjust="spacingAndGlyphs" fill="#cbbcdc" stroke="none">R6</text>
<polyline points="962.9,522.5 975.9,522.5" stroke-width="2"/>
<polyline points="962.9,545.7 975.9,545.7" stroke-width="2"/>
<polyline points="1118.1,522.5 1131.1,522.5" stroke-width="2"/>
<polyline points="1118.1,545.7 1131.1,545.7" stroke-width="2"/>
<text transform="translate(962,559.1)" font-family="'Liberation Sans', sans-serif" font-size="12.3" textLength="23" lengthAdjust="spacingAndGlyphs" fill="#cbbcdc" stroke="none">R10</text>
<text transform="translate(1124.5,559.1)" font-family="'Liberation Sans', sans-serif" font-size="12.3" textLength="15" lengthAdjust="spacingAndGlyphs" fill="#cbbcdc" stroke="none">R7</text>
<polyline points="962.9,572.2 975.9,572.2" stroke-width="2"/>
<polyline points="962.9,595.8 975.9,595.8" stroke-width="2"/>
<polyline points="1118.1,572.2 1131.1,572.2" stroke-width="2"/>
<polyline points="1118.1,595.8 1131.1,595.8" stroke-width="2"/>
<text transform="translate(962,608.8)" font-family="'Liberation Sans', sans-serif" font-size="12.3" textLength="23" lengthAdjust="spacingAndGlyphs" fill="#cbbcdc" stroke="none">R11</text>
<text transform="translate(1124.5,608.8)" font-family="'Liberation Sans', sans-serif" font-size="12.3" textLength="15" lengthAdjust="spacingAndGlyphs" fill="#cbbcdc" stroke="none">R8</text>
<rect x="26" y="279.4" width="69.6" height="239.6" rx="2.5" stroke-width="3.2"/>
<text transform="translate(124,320) rotate(-90)" font-family="'Liberation Sans', sans-serif" font-size="30.7" font-weight="bold" textLength="35" lengthAdjust="spacingAndGlyphs" fill="#cbbcdc" stroke="none">P2</text>
<polygon points="31.5,509 37.5,505.5 37.5,512.5" fill="#cbbcdc" stroke="none"/>
<rect x="888" y="718.4" width="163.8" height="68.1" rx="2.5" stroke-width="3.4"/>
<text transform="translate(890,711.7)" font-family="'Liberation Sans', sans-serif" font-size="26.7" font-weight="bold" textLength="32" lengthAdjust="spacingAndGlyphs" fill="#cbbcdc" stroke="none">P1</text>
<polygon points="1039.5,776 1046,776 1042.7,782" fill="#cbbcdc" stroke="none"/>
<polygon points="605.5,231.4 702.8,328.7 605.5,426 512.4,332.9 512.4,324.5" stroke-width="2.6"/>
<circle cx="502.3" cy="329" r="3.2" stroke-width="2.4"/>
<text transform="translate(501,283.5) rotate(-45)" font-family="'Liberation Sans', sans-serif" font-size="26.5" textLength="36" lengthAdjust="spacing" fill="#cbbcdc" stroke="#401262" stroke-width="0.7">U1</text>
<polygon points="401.8,460.4 718,460.4 718,558.7 401.8,558.7" stroke-width="2.6"/>
<text transform="translate(536,454.7)" font-family="'Liberation Sans', sans-serif" font-size="26.1" textLength="31" lengthAdjust="spacingAndGlyphs" fill="#cbbcdc" stroke="#401262" stroke-width="0.7">X1</text>
<polygon points="520,629.3 751.5,629.3 751.5,779.8 520,779.8" stroke-width="2.6"/>
<text transform="translate(437.7,604.6)" font-family="'Liberation Sans', sans-serif" font-size="27.4" textLength="49.7" lengthAdjust="spacingAndGlyphs" fill="#cbbcdc" stroke="#401262" stroke-width="0.7">TP4</text>
<text transform="translate(283.5,689.3)" font-family="'Liberation Sans', sans-serif" font-size="25.8" textLength="49.5" lengthAdjust="spacingAndGlyphs" fill="#cbbcdc" stroke="#401262" stroke-width="0.7">TP5</text>
<text transform="translate(363.3,689.3)" font-family="'Liberation Sans', sans-serif" font-size="25.8" textLength="50" lengthAdjust="spacingAndGlyphs" fill="#cbbcdc" stroke="#401262" stroke-width="0.7">TP3</text>
<text transform="translate(43,739.6)" font-family="'Liberation Sans', sans-serif" font-size="26.7" textLength="48.3" lengthAdjust="spacingAndGlyphs" fill="#cbbcdc" stroke="#401262" stroke-width="0.7">TP1</text>
<text transform="translate(147.6,739.6)" font-family="'Liberation Sans', sans-serif" font-size="26.7" textLength="50.4" lengthAdjust="spacingAndGlyphs" fill="#cbbcdc" stroke="#401262" stroke-width="0.7">TP2</text>
<text transform="translate(767.4,720)" font-family="'Liberation Sans', sans-serif" font-size="26.5" textLength="50.6" lengthAdjust="spacingAndGlyphs" fill="#cbbcdc" stroke="#401262" stroke-width="0.7">TP6</text>
<polyline points="124.8,622 124.8,611 142.6,611" stroke-width="3.2"/>
<polyline points="124.8,655.5 124.8,666.4 142.6,666.4" stroke-width="3.2"/>
<text transform="translate(117.4,603.7)" font-family="'Liberation Sans', sans-serif" font-size="26.1" textLength="31.9" lengthAdjust="spacingAndGlyphs" fill="#cbbcdc" stroke="#401262" stroke-width="0.7">Q1</text>
<polyline points="242.2,611 260,611 260,622" stroke-width="3.2"/>
<polyline points="242.2,666.4 260,666.4 260,655.5" stroke-width="3.2"/>
<text transform="translate(210.7,673) rotate(-90)" font-family="'Liberation Sans', sans-serif" font-size="29.6" textLength="51.5" lengthAdjust="spacingAndGlyphs" fill="#cbbcdc" stroke="#401262" stroke-width="0.7">Q10</text>
<text transform="translate(209.7,531.7)" font-family="'Liberation Sans', sans-serif" font-size="27.5" textLength="32.3" lengthAdjust="spacingAndGlyphs" fill="#cbbcdc" stroke="#401262" stroke-width="0.7">Q7</text>
<text transform="translate(297,566)" font-family="'Liberation Sans', sans-serif" font-size="25.6" textLength="33.4" lengthAdjust="spacingAndGlyphs" fill="#cbbcdc" stroke="#401262" stroke-width="0.7">R3</text>
<text transform="translate(362.3,566)" font-family="'Liberation Sans', sans-serif" font-size="25.6" textLength="30.9" lengthAdjust="spacingAndGlyphs" fill="#cbbcdc" stroke="#401262" stroke-width="0.7">R4</text>
<text transform="translate(169.4,716)" font-family="'Liberation Sans', sans-serif" font-size="25.7" textLength="32.9" lengthAdjust="spacingAndGlyphs" fill="#cbbcdc" stroke="#401262" stroke-width="0.7">R1</text>
<polyline points="224,739.6 265,739.6" stroke-width="2.4"/>
<polyline points="224,768 265,768" stroke-width="2.4"/>
<polygon points="235,754.8 247.4,747.6 247.4,762.2" stroke-width="2"/>
<text transform="translate(224,793.3)" font-family="'Liberation Sans', sans-serif" font-size="27" textLength="33.7" lengthAdjust="spacingAndGlyphs" fill="#cbbcdc" stroke="#401262" stroke-width="0.7">D3</text>
<rect x="391.7" y="742.5" width="3" height="3" fill="#cbbcdc" stroke="none"/>
<text transform="translate(364,783.9)" font-family="'Liberation Sans', sans-serif" font-size="26.8" textLength="51" lengthAdjust="spacingAndGlyphs" fill="#cbbcdc" stroke="#401262" stroke-width="0.7">PWR</text>
<polygon points="883.5,181.2 1405,181.2 1530,300 1530,531 1405,657 883.5,657" stroke-width="3"/>
<text transform="translate(1400,439.8) rotate(-90)" font-family="'Liberation Sans', sans-serif" font-size="28.6" textLength="51.2" lengthAdjust="spacingAndGlyphs" fill="#cbbcdc" stroke="#401262" stroke-width="0.7">XB1</text>
<polyline points="1177.6,253.8 1177.6,566.3" stroke-width="1.6"/>
<polyline points="1281,253.8 1281,566.3" stroke-width="1.6"/>
<text transform="translate(1190,257) rotate(90)" font-family="'Liberation Sans', sans-serif" font-size="108" font-weight="bold" font-style="italic" textLength="306" lengthAdjust="spacingAndGlyphs" fill="none" stroke="#cbbcdc" stroke-width="1.3">XBee</text>
<text transform="translate(1123,416) rotate(90)" font-family="'Liberation Serif', serif" font-size="50" font-style="italic" textLength="146" lengthAdjust="spacingAndGlyphs" fill="none" stroke="#cbbcdc" stroke-width="1.3">Pro</text>
<text x="1074" y="727.3" font-family="'Liberation Mono', monospace" font-size="23.6" textLength="199.6" lengthAdjust="spacingAndGlyphs" fill="#cbbcdc" stroke="#401262" stroke-width="0.6">Xbee Test Node</text>
<text x="1074" y="750.9" font-family="'Liberation Mono', monospace" font-size="23.6" textLength="85.6" lengthAdjust="spacingAndGlyphs" fill="#cbbcdc" stroke="#401262" stroke-width="0.6">Rev. A</text>
<text x="1074" y="775" font-family="'Liberation Mono', monospace" font-size="23.6" textLength="171.1" lengthAdjust="spacingAndGlyphs" fill="#cbbcdc" stroke="#401262" stroke-width="0.6">Designed By:</text>
<text x="1074" y="798.3" font-family="'Liberation Mono', monospace" font-size="23.6" textLength="128.3" lengthAdjust="spacingAndGlyphs" fill="#cbbcdc" stroke="#401262" stroke-width="0.6">Ian Ahner</text>
</g>
<g fill="#b48c86" stroke="#6f6660" stroke-width="0.9">
<circle cx="63.7" cy="217" r="20.6"/>
<circle cx="1474.5" cy="217" r="20.6"/>
<circle cx="63.7" cy="594" r="20.6"/>
<circle cx="1475.2" cy="593.6" r="20.6"/>
<circle cx="151" cy="139.2" r="19"/>
<circle cx="151" cy="227.8" r="19"/>
<circle cx="279" cy="139.2" r="19"/>
<circle cx="279" cy="227.8" r="19"/>
<circle cx="1116" cy="49.5" r="19"/>
<circle cx="1116" cy="138.1" r="19"/>
<circle cx="1244" cy="49.5" r="19"/>
<circle cx="1244" cy="138.1" r="19"/>
<rect x="339" y="64" width="32" height="60" rx="16"/>
<rect x="389" y="64" width="32" height="60" rx="16"/>
<rect x="439" y="64" width="32" height="60" rx="16"/>
<rect x="489" y="64" width="32" height="60" rx="16"/>
<rect x="539" y="64" width="32" height="60" rx="16"/>
<rect x="589" y="64" width="32" height="60" rx="16"/>
<polygon points="713,62.6 726.4,62.6 735.9,72.1 735.9,85.5 726.4,95 713,95 703.5,85.5 703.5,72.1"/>
<polygon points="713,112.3 726.4,112.3 735.9,121.8 735.9,135.2 726.4,144.7 713,144.7 703.5,135.2 703.5,121.8"/>
<polygon points="763.1,62.6 776.5,62.6 786,72.1 786,85.5 776.5,95 763.1,95 753.6,85.5 753.6,72.1"/>
<polygon points="763.1,112.3 776.5,112.3 786,121.8 786,135.2 776.5,144.7 763.1,144.7 753.6,135.2 753.6,121.8"/>
<polygon points="812.9,62.6 826.3,62.6 835.8,72.1 835.8,85.5 826.3,95 812.9,95 803.4,85.5 803.4,72.1"/>
<polygon points="812.9,112.3 826.3,112.3 835.8,121.8 835.8,135.2 826.3,144.7 812.9,144.7 803.4,135.2 803.4,121.8"/>
<rect x="342" y="147.6" width="25" height="17"/>
<rect x="342" y="183.6" width="25" height="17"/>
<rect x="492.5" y="183" width="24.1" height="17"/>
<rect x="492.5" y="218" width="24.1" height="17"/>
<rect x="1387" y="107" width="25.5" height="17"/>
<rect x="1387" y="143.4" width="25.5" height="17"/>
<rect x="1437" y="107" width="25" height="17"/>
<rect x="1437" y="143.4" width="25" height="17"/>
<rect x="733.3" y="206.3" width="17.4" height="25.2"/>
<rect x="768.1" y="206.3" width="17.4" height="25.2"/>
<rect x="733.3" y="256.7" width="17.4" height="25.1"/>
<rect x="768.1" y="256.7" width="17.4" height="25.1"/>
<rect x="168.4" y="296" width="17.4" height="26"/>
<rect x="203.3" y="296" width="17.4" height="26"/>
<rect x="443.6" y="401.6" width="17.4" height="25.4"/>
<rect x="478.3" y="401.6" width="17.4" height="25.4"/>
<rect x="338" y="496.4" width="17.4" height="25.2"/>
<rect x="373.4" y="496.4" width="17.4" height="25.2"/>
<rect x="738.3" y="496.6" width="17.4" height="25.2"/>
<rect x="773.2" y="496.6" width="17.4" height="25.2"/>
<rect x="808.7" y="476.5" width="17.4" height="25.1"/>
<rect x="843.3" y="476.5" width="17.4" height="25.1"/>
<rect x="808.7" y="521.4" width="17.4" height="25.2"/>
<rect x="843.3" y="521.4" width="17.4" height="25.2"/>
<rect x="808.7" y="571.7" width="17.4" height="25.3"/>
<rect x="843.3" y="571.7" width="17.4" height="25.3"/>
<rect x="448.9" y="732.2" width="17.4" height="24.8"/>
<rect x="483.5" y="732.2" width="17.4" height="24.8"/>
<rect x="943" y="476.2" width="17.4" height="25.6"/>
<rect x="978.4" y="476.2" width="17.4" height="25.6"/>
<rect x="1098.2" y="476.2" width="17.4" height="25.6"/>
<rect x="1133.6" y="476.2" width="17.4" height="25.6"/>
<rect x="943" y="521.3" width="17.4" height="25.6"/>
<rect x="978.4" y="521.3" width="17.4" height="25.6"/>
<rect x="1098.2" y="521.3" width="17.4" height="25.6"/>
<rect x="1133.6" y="521.3" width="17.4" height="25.6"/>
<rect x="943" y="571" width="17.4" height="26"/>
<rect x="978.4" y="571" width="17.4" height="26"/>
<rect x="1098.2" y="571" width="17.4" height="26"/>
<rect x="1133.6" y="571" width="17.4" height="26"/>
<rect x="51.2" y="304.5" width="36.5" height="17" rx="8.5"/>
<rect x="51.2" y="329.1" width="36.5" height="17" rx="8.5"/>
<rect x="51.2" y="353.7" width="36.5" height="17" rx="8.5"/>
<rect x="51.2" y="378.3" width="36.5" height="17" rx="8.5"/>
<rect x="51.2" y="402.9" width="36.5" height="17" rx="8.5"/>
<rect x="51.2" y="427.5" width="36.5" height="17" rx="8.5"/>
<rect x="51.2" y="452.1" width="36.5" height="17" rx="8.5"/>
<rect x="51.2" y="476.7" width="36.5" height="17" rx="8.5"/>
<rect x="911.7" y="725" width="18" height="38" rx="9"/>
<rect x="935.8" y="725" width="18" height="38" rx="9"/>
<rect x="960.7" y="725" width="18" height="38" rx="9"/>
<rect x="984.8" y="725" width="18" height="38" rx="9"/>
<rect x="1009.3" y="725" width="18" height="38" rx="9"/>
<polygon points="578.4,215.1 597.5,234.2 589,242.7 569.9,223.6"/>
<polygon points="700,336.7 719.1,355.8 710.6,364.3 691.5,345.2"/>
<polygon points="632.6,215.1 641.1,223.6 622,242.7 613.5,234.2"/>
<polygon points="511,336.7 519.5,345.2 500.4,364.3 491.9,355.8"/>
<polygon points="567.2,226.3 586.3,245.3 577.8,253.8 558.7,234.7"/>
<polygon points="688.9,347.9 707.9,367 699.5,375.5 680.4,356.4"/>
<polygon points="643.8,226.3 652.3,234.7 633.2,253.8 624.7,245.3"/>
<polygon points="522.1,347.9 530.6,356.4 511.5,375.5 503.1,367"/>
<polygon points="556.1,237.4 575.2,256.5 566.7,265 547.6,245.9"/>
<polygon points="677.7,359 696.8,378.1 688.3,386.6 669.2,367.5"/>
<polygon points="654.9,237.4 663.4,245.9 644.3,265 635.8,256.5"/>
<polygon points="533.3,359 541.8,367.5 522.7,386.6 514.2,378.1"/>
<polygon points="545,248.5 564,267.6 555.6,276.1 536.5,257"/>
<polygon points="666.6,370.2 685.7,389.2 677.2,397.7 658.1,378.6"/>
<polygon points="666,248.5 674.5,257 655.4,276.1 647,267.6"/>
<polygon points="544.4,370.2 552.9,378.6 533.8,397.7 525.3,389.2"/>
<polygon points="533.8,259.7 552.9,278.8 544.4,287.2 525.3,268.2"/>
<polygon points="655.4,381.3 674.5,400.4 666,408.9 647,389.8"/>
<polygon points="677.2,259.7 685.7,268.2 666.6,287.2 658.1,278.8"/>
<polygon points="555.6,381.3 564,389.8 545,408.9 536.5,400.4"/>
<polygon points="522.7,270.8 541.8,289.9 533.3,298.4 514.2,279.3"/>
<polygon points="644.3,392.4 663.4,411.5 654.9,420 635.8,400.9"/>
<polygon points="688.3,270.8 696.8,279.3 677.7,298.4 669.2,289.9"/>
<polygon points="566.7,392.4 575.2,400.9 556.1,420 547.6,411.5"/>
<polygon points="511.5,281.9 530.6,301 522.1,309.5 503.1,290.4"/>
<polygon points="633.2,403.6 652.3,422.7 643.8,431.1 624.7,412.1"/>
<polygon points="699.5,281.9 707.9,290.4 688.9,309.5 680.4,301"/>
<polygon points="577.8,403.6 586.3,412.1 567.2,431.1 558.7,422.7"/>
<polygon points="500.4,293.1 519.5,312.2 511,320.7 491.9,301.6"/>
<polygon points="622,414.7 641.1,433.8 632.6,442.3 613.5,423.2"/>
<polygon points="710.6,293.1 719.1,301.6 700,320.7 691.5,312.2"/>
<polygon points="589,414.7 597.5,423.2 578.4,442.3 569.9,433.8"/>
<rect x="411.2" y="489" width="109.8" height="40"/>
<rect x="598" y="489" width="109.8" height="40"/>
<rect x="572.1" y="726.2" width="25.5" height="25.5"/>
<rect x="622.1" y="726.2" width="25.5" height="25.5"/>
<rect x="672" y="726.2" width="25.5" height="25.5"/>
<circle cx="424.8" cy="603.7" r="13.4"/>
<circle cx="304.6" cy="703.7" r="13.4"/>
<circle cx="355" cy="703.7" r="13.4"/>
<circle cx="55.4" cy="754" r="13.4"/>
<circle cx="160" cy="754" r="13.4"/>
<circle cx="780" cy="739" r="13.4"/>
<rect x="108.4" y="629.9" width="19.1" height="18.4"/>
<rect x="148.6" y="611" width="20.1" height="18"/>
<rect x="148.6" y="649" width="20.1" height="17.8"/>
<rect x="214.7" y="611" width="20.1" height="18"/>
<rect x="214.7" y="649" width="20.1" height="17.8"/>
<rect x="256" y="629.9" width="20" height="18.4"/>
<rect x="208.7" y="553.4" width="29.3" height="21.1"/>
<rect x="251.6" y="534.4" width="29.2" height="20.6"/>
<rect x="251.6" y="572.5" width="29.2" height="21.1"/>
<rect x="303" y="571.8" width="24" height="20.2"/>
<rect x="303" y="605.4" width="24" height="21.1"/>
<rect x="368" y="571.8" width="23.8" height="20.2"/>
<rect x="368" y="605.4" width="23.8" height="21.1"/>
<rect x="217.4" y="692" width="21.5" height="23.4"/>
<rect x="251" y="692" width="21.4" height="23.4"/>
<rect x="216.4" y="747.3" width="13.4" height="13.4"/>
<rect x="259.3" y="747.3" width="13.4" height="13.4"/>
<rect x="361.7" y="732" width="24.8" height="24.4"/>
<rect x="402" y="732" width="25.7" height="24.4"/>
<circle cx="1047.4" cy="201.6" r="14"/>
<circle cx="1047.4" cy="635" r="14"/>
<circle cx="1086.8" cy="201.6" r="14"/>
<circle cx="1086.8" cy="635" r="14"/>
<circle cx="1126.1" cy="201.6" r="14"/>
<circle cx="1126.1" cy="635" r="14"/>
<circle cx="1165.5" cy="201.6" r="14"/>
<circle cx="1165.5" cy="635" r="14"/>
<circle cx="1204.9" cy="201.6" r="14"/>
<circle cx="1204.9" cy="635" r="14"/>
<circle cx="1244.2" cy="201.6" r="14"/>
<circle cx="1244.2" cy="635" r="14"/>
<circle cx="1283.6" cy="201.6" r="14"/>
<circle cx="1283.6" cy="635" r="14"/>
<circle cx="1323" cy="201.6" r="14"/>
<circle cx="1323" cy="635" r="14"/>
<circle cx="1362.4" cy="201.6" r="14"/>
<circle cx="1362.4" cy="635" r="14"/>
<circle cx="1401.7" cy="201.6" r="14"/>
<circle cx="1401.7" cy="635" r="14"/>
<circle cx="339.5" cy="228.8" r="8.7"/>
<circle cx="384.8" cy="248.5" r="8.7"/>
<circle cx="430" cy="233" r="8.7"/>
<circle cx="444.6" cy="263.7" r="8.7"/>
<circle cx="454.5" cy="279" r="8.7"/>
<circle cx="464.5" cy="294.3" r="8.7"/>
<circle cx="530" cy="143.6" r="8.7"/>
<circle cx="532" cy="200.8" r="8.7"/>
<circle cx="534.8" cy="239" r="8.7"/>
<circle cx="469.6" cy="343.6" r="8.7"/>
<circle cx="609.8" cy="264" r="8.7"/>
<circle cx="655" cy="308.7" r="8.7"/>
<circle cx="655" cy="357" r="8.7"/>
<circle cx="640" cy="369.7" r="8.7"/>
<circle cx="627.3" cy="383.8" r="8.7"/>
<circle cx="614.8" cy="399" r="8.7"/>
<circle cx="724.5" cy="398.3" r="8.7"/>
<circle cx="775" cy="173.6" r="8.7"/>
<circle cx="874.8" cy="258.4" r="8.7"/>
<circle cx="874.8" cy="308.7" r="8.7"/>
<circle cx="145" cy="338.8" r="8.7"/>
<circle cx="114.7" cy="438.4" r="8.7"/>
<circle cx="420.3" cy="363.8" r="10.2"/>
<circle cx="465.2" cy="383.5" r="10.2"/>
<circle cx="592.7" cy="401" r="10.2"/>
<circle cx="665" cy="438.6" r="10.2"/>
<circle cx="900" cy="489" r="10.6"/>
<circle cx="900" cy="533.5" r="10.6"/>
<circle cx="904.6" cy="583.2" r="10.6"/>
<circle cx="1054.7" cy="489" r="10.6"/>
<circle cx="1054.7" cy="533.5" r="10.6"/>
<circle cx="1054.7" cy="583.2" r="10.6"/>
<circle cx="1304.7" cy="503.8" r="10.6"/>
<circle cx="1249.9" cy="558.6" r="10.6"/>
<rect x="966" y="140.8" width="17.5" height="17.5"/>
<rect x="596" y="209.9" width="17.5" height="17.5"/>
<rect x="795.9" y="220.2" width="17.5" height="17.5"/>
<rect x="625.9" y="275.4" width="17.5" height="17.5"/>
<rect x="521.2" y="324.1" width="17.5" height="17.5"/>
<rect x="705.8" y="320.1" width="17.5" height="17.5"/>
<rect x="866" y="275.4" width="17.5" height="17.5"/>
<rect x="866" y="325.1" width="17.5" height="17.5"/>
<rect x="1360.8" y="105.2" width="17.5" height="17.5"/>
<rect x="1471.2" y="105.2" width="17.5" height="17.5"/>
<rect x="321.1" y="355.2" width="17.5" height="17.5"/>
<rect x="121.1" y="515.2" width="17.5" height="17.5"/>
<rect x="255.9" y="510.2" width="17.5" height="17.5"/>
<rect x="310.9" y="500.2" width="17.5" height="17.5"/>
<rect x="691" y="420.4" width="17.5" height="17.5"/>
<rect x="736" y="545.2" width="17.5" height="17.5"/>
<rect x="491.1" y="600.2" width="17.5" height="17.5"/>
<rect x="231.2" y="590" width="17.5" height="17.5"/>
<rect x="340.9" y="605.2" width="17.5" height="17.5"/>
<rect x="321.1" y="655.2" width="17.5" height="17.5"/>
<rect x="145.9" y="670.5" width="17.5" height="17.5"/>
<rect x="335.8" y="735.2" width="17.5" height="17.5"/>
<rect x="1316" y="309.6" width="17.5" height="17.5"/>
<rect x="1185.8" y="524.8" width="17.5" height="17.5"/>
<rect x="1355.8" y="540.1" width="17.5" height="17.5"/>
<rect x="890.2" y="148.8" width="19.5" height="19.5"/>
<rect x="645.2" y="453.9" width="19.5" height="19.5"/>
</g>
<g fill="#000000">
<circle cx="225.4" cy="61.4" r="32"/>
<circle cx="225.4" cy="404.9" r="32"/>
<circle cx="1313" cy="405" r="32"/>
<circle cx="1313.5" cy="750.3" r="32"/>
<circle cx="63.7" cy="217" r="12.7"/>
<circle cx="1474.5" cy="217" r="12.7"/>
<circle cx="63.7" cy="594" r="12.7"/>
<circle cx="1475.2" cy="593.6" r="12.7"/>
<circle cx="151" cy="139.2" r="10"/>
<circle cx="151" cy="227.8" r="10"/>
<circle cx="279" cy="139.2" r="10"/>
<circle cx="279" cy="227.8" r="10"/>
<circle cx="1116" cy="49.5" r="10"/>
<circle cx="1116" cy="138.1" r="10"/>
<circle cx="1244" cy="49.5" r="10"/>
<circle cx="1244" cy="138.1" r="10"/>
<circle cx="355" cy="94" r="10"/>
<circle cx="405" cy="94" r="10"/>
<circle cx="455" cy="94" r="10"/>
<circle cx="505" cy="94" r="10"/>
<circle cx="555" cy="94" r="10"/>
<circle cx="605" cy="94" r="10"/>
<circle cx="719.7" cy="78.8" r="10"/>
<circle cx="719.7" cy="128.5" r="10"/>
<circle cx="769.8" cy="78.8" r="10"/>
<circle cx="769.8" cy="128.5" r="10"/>
<circle cx="819.6" cy="78.8" r="10"/>
<circle cx="819.6" cy="128.5" r="10"/>
<circle cx="69.4" cy="313" r="4.4"/>
<circle cx="69.4" cy="337.6" r="4.4"/>
<circle cx="69.4" cy="362.2" r="4.4"/>
<circle cx="69.4" cy="386.8" r="4.4"/>
<circle cx="69.4" cy="411.4" r="4.4"/>
<circle cx="69.4" cy="436" r="4.4"/>
<circle cx="69.4" cy="460.6" r="4.4"/>
<circle cx="69.4" cy="485.2" r="4.4"/>
<circle cx="920.7" cy="744" r="4.4"/>
<circle cx="944.8" cy="744" r="4.4"/>
<circle cx="969.7" cy="744" r="4.4"/>
<circle cx="993.8" cy="744" r="4.4"/>
<circle cx="1018.3" cy="744" r="4.4"/>
<circle cx="584.9" cy="739" r="7.4"/>
<circle cx="634.9" cy="739" r="7.4"/>
<circle cx="684.8" cy="739" r="7.4"/>
<circle cx="1047.4" cy="201.6" r="7.5"/>
<circle cx="1047.4" cy="635" r="7.5"/>
<circle cx="1086.8" cy="201.6" r="7.5"/>
<circle cx="1086.8" cy="635" r="7.5"/>
<circle cx="1126.1" cy="201.6" r="7.5"/>
<circle cx="1126.1" cy="635" r="7.5"/>
<circle cx="1165.5" cy="201.6" r="7.5"/>
<circle cx="1165.5" cy="635" r="7.5"/>
<circle cx="1204.9" cy="201.6" r="7.5"/>
<circle cx="1204.9" cy="635" r="7.5"/>
<circle cx="1244.2" cy="201.6" r="7.5"/>
<circle cx="1244.2" cy="635" r="7.5"/>
<circle cx="1283.6" cy="201.6" r="7.5"/>
<circle cx="1283.6" cy="635" r="7.5"/>
<circle cx="1323" cy="201.6" r="7.5"/>
<circle cx="1323" cy="635" r="7.5"/>
<circle cx="1362.4" cy="201.6" r="7.5"/>
<circle cx="1362.4" cy="635" r="7.5"/>
<circle cx="1401.7" cy="201.6" r="7.5"/>
<circle cx="1401.7" cy="635" r="7.5"/>
<circle cx="339.5" cy="228.8" r="3.3"/>
<circle cx="384.8" cy="248.5" r="3.3"/>
<circle cx="430" cy="233" r="3.3"/>
<circle cx="444.6" cy="263.7" r="3.3"/>
<circle cx="454.5" cy="279" r="3.3"/>
<circle cx="464.5" cy="294.3" r="3.3"/>
<circle cx="530" cy="143.6" r="3.3"/>
<circle cx="532" cy="200.8" r="3.3"/>
<circle cx="534.8" cy="239" r="3.3"/>
<circle cx="469.6" cy="343.6" r="3.3"/>
<circle cx="609.8" cy="264" r="3.3"/>
<circle cx="655" cy="308.7" r="3.3"/>
<circle cx="655" cy="357" r="3.3"/>
<circle cx="640" cy="369.7" r="3.3"/>
<circle cx="627.3" cy="383.8" r="3.3"/>
<circle cx="614.8" cy="399" r="3.3"/>
<circle cx="724.5" cy="398.3" r="3.3"/>
<circle cx="775" cy="173.6" r="3.3"/>
<circle cx="874.8" cy="258.4" r="3.3"/>
<circle cx="874.8" cy="308.7" r="3.3"/>
<circle cx="145" cy="338.8" r="3.3"/>
<circle cx="114.7" cy="438.4" r="3.3"/>
<circle cx="420.3" cy="363.8" r="5.4"/>
<circle cx="465.2" cy="383.5" r="5.4"/>
<circle cx="592.7" cy="401" r="5.4"/>
<circle cx="665" cy="438.6" r="5.4"/>
<circle cx="900" cy="489" r="5.6"/>
<circle cx="900" cy="533.5" r="5.6"/>
<circle cx="904.6" cy="583.2" r="5.6"/>
<circle cx="1054.7" cy="489" r="5.6"/>
<circle cx="1054.7" cy="533.5" r="5.6"/>
<circle cx="1054.7" cy="583.2" r="5.6"/>
<circle cx="1304.7" cy="503.8" r="5.6"/>
<circle cx="1249.9" cy="558.6" r="5.6"/>
<circle cx="974.8" cy="149.5" r="3.6"/>
<circle cx="604.7" cy="218.7" r="3.6"/>
<circle cx="804.6" cy="229" r="3.6"/>
<circle cx="634.6" cy="284.2" r="3.6"/>
<circle cx="530" cy="332.8" r="3.6"/>
<circle cx="714.5" cy="328.8" r="3.6"/>
<circle cx="874.8" cy="284.2" r="3.6"/>
<circle cx="874.8" cy="333.8" r="3.6"/>
<circle cx="1369.5" cy="114" r="3.6"/>
<circle cx="1480" cy="114" r="3.6"/>
<circle cx="329.8" cy="364" r="3.6"/>
<circle cx="129.8" cy="524" r="3.6"/>
<circle cx="264.7" cy="519" r="3.6"/>
<circle cx="319.7" cy="509" r="3.6"/>
<circle cx="699.7" cy="429.2" r="3.6"/>
<circle cx="744.7" cy="554" r="3.6"/>
<circle cx="499.8" cy="609" r="3.6"/>
<circle cx="240" cy="598.7" r="3.6"/>
<circle cx="349.6" cy="614" r="3.6"/>
<circle cx="329.8" cy="664" r="3.6"/>
<circle cx="154.7" cy="679.2" r="3.6"/>
<circle cx="344.5" cy="744" r="3.6"/>
<circle cx="1324.7" cy="318.4" r="3.6"/>
<circle cx="1194.5" cy="533.5" r="3.6"/>
<circle cx="1364.6" cy="548.9" r="3.6"/>
<circle cx="900" cy="158.6" r="5.4"/>
<circle cx="655" cy="463.7" r="5.4"/>
</g>
</svg></body></html>
